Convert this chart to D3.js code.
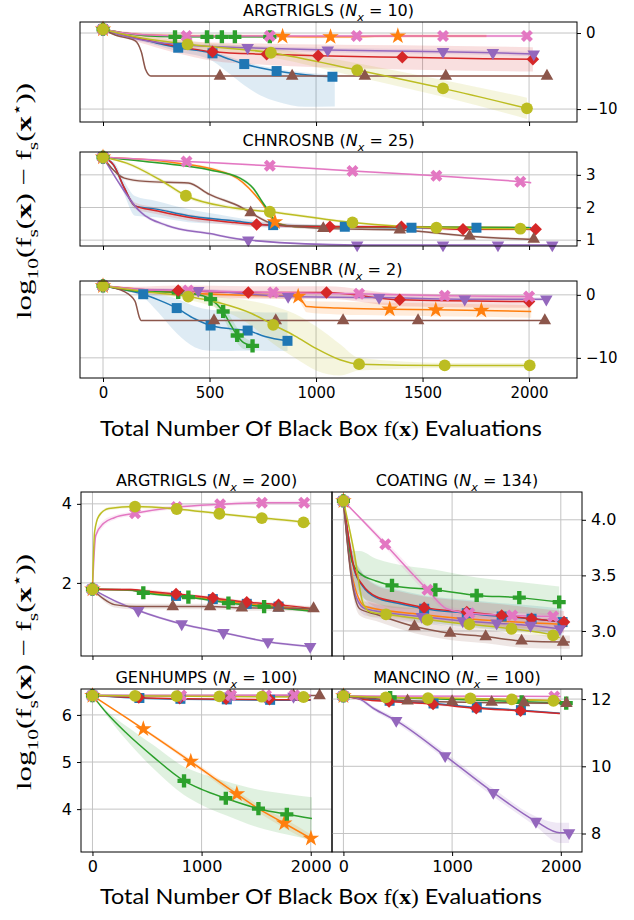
<!DOCTYPE html>
<html>
  <head>
    <meta charset="utf-8">
    <style type="text/css">
      body { margin: 0; background: #fff; }
      text { font-family: 'DejaVu Sans', sans-serif; }
    </style>
    <script src="https://d3js.org/d3.v7.min.js"></script>
  </head>
  <body>
    <svg width="634" height="920"></svg>
    <script>
      // series order: blue(s), orange(*), green(P), red(D), purple(v), brown(^), pink(X), olive(o)
      // line points are [x, y, band below, band above]
      const argtrigls10 = [
        { line: [[0,0.5,0,0],[60,0,0,0.1],[150,-0.6,0.2,0.2],[250,-1.3,0.3,0.3],[353,-1.93,0.5,0.3],[514,-2.67,1.0,0.3],[600,-3.5,2.0,0.3],[663,-4.08,2.8,0.3],[740,-4.6,3.6,0.3],[815,-5.0,4.0,0.3],[950,-5.5,4.2,0.3],[1077,-5.75,3.9,0.3],[1088,-5.75,3.9,0.3]], marks: [0,353,514,663,815,1077] },
        { line: [[0,0.5,0],[100,0,0.2],[250,-0.3,0.2],[500,-0.4,0.2],[843,-0.45,0.2],[1068,-0.5,0.2],[1384,-0.4,0.2],[1800,-0.4,0.2]], marks: [0,843,1068,1384] },
        { line: [[0,0.5,0],[100,0,0.15],[200,-0.35,0.15],[338,-0.5,0.15],[783,-0.5,0.15]], marks: [0,338,488,558,619,783] },
        { line: [[0,0.5,0],[100,-0.3,0.3],[250,-1.2,0.7],[400,-2.0,1.0],[514,-2.46,1.2],[768,-2.8,1.4],[1010,-3.0,1.5],[1405,-3.2,1.6],[2018,-3.46,1.6]], marks: [0,514,768,1010,1405,2018] },
        { line: [[0,0.5,0],[100,-0.4,0.2],[250,-1.2,0.3],[400,-1.6,0.3],[679,-1.93,0.3],[1055,-2.24,0.3],[1596,-2.46,0.3],[1830,-2.59,0.3],[2022,-2.76,0.3]], marks: [0,679,1055,1596,1830,2022] },
        { line: [[0,0.5,0],[60,-0.3,0.1],[150,-1.0,0.2],[180,-2.5,0.2],[200,-4.8,0.2],[225,-5.66,0.1],[2100,-5.66,0.1]], marks: [0,549,888,1229,1609,2084] },
        { line: [[0,0.5,0],[100,0,0.2],[250,-0.3,0.2],[392,-0.4,0.2],[783,-0.4,0.2],[1191,-0.4,0.2],[1596,-0.4,0.2],[1990,-0.4,0.2]], marks: [0,392,783,1191,1596,1990] },
        { line: [[0,0.5,0],[150,-0.5,0.3],[397,-1.49,0.4],[788,-2.59,0.6],[1193,-4.87,0.9],[1596,-7.28,1.1],[1990,-9.9,1.4]], marks: [0,397,788,1193,1596,1990] }
      ];
      const chnrosnb25 = [
        { line: [[0,3.54,0],[50,3.3,0.1],[100,2.6,0.2],[150,2.05,0.3],[250,1.95,0.25],[400,1.75,0.2],[600,1.6,0.12],[799,1.46,0.08],[1135,1.41,0.05],[1448,1.38,0.05],[1753,1.38,0.05],[2010,1.38,0.05]], marks: [0,799,1135,1448,1753] },
        { line: [[0,3.54,0],[300,3.4,0.03],[600,3.0,0.05],[750,2.1,0.05],[807,1.56,0.05],[900,1.42,0.03],[2000,1.38,0.03]], marks: [0,807] },
        { line: [[0,3.54,0],[267,3.36,0.03],[502,3.15,0.03],[643,2.9,0.04],[705,2.59,0.05],[752,2.13,0.05],[780,1.87,0.05],[820,1.5,0.04],[900,1.42,0.03],[2000,1.38,0.03]], marks: [0] },
        { line: [[0,3.54,0],[50,3.3,0.05],[100,2.6,0.08],[150,2.05,0.1],[250,1.9,0.1],[400,1.7,0.1],[600,1.55,0.08],[721,1.48,0.08],[1065,1.41,0.05],[1401,1.41,0.05],[1690,1.33,0.05],[2031,1.33,0.05]], marks: [0,721,1065,1401,1690,2031] },
        { line: [[0,3.54,0],[70,2.8,0.05],[170,1.9,0.05],[300,1.45,0.05],[500,1.2,0.04],[682,1.0,0.03],[1193,0.85,0.02],[2109,0.85,0.02]], marks: [0,682,1193,1596,1854,2109] },
        { line: [[0,3.54,0],[100,2.9,0.05],[200,2.8,0.05],[400,2.75,0.05],[500,2.4,0.05],[650,2.0,0.05],[693,1.84,0.05],[800,1.5,0.05],[1034,1.36,0.04],[1393,1.31,0.04],[1721,1.12,0.04],[2022,1.03,0.04],[2031,1.03,0.04]], marks: [0,693,1034,1393,1721,2022] },
        { line: [[0,3.54,0],[392,3.41,0.03],[783,3.28,0.03],[1171,3.12,0.03],[1565,2.97,0.03],[1959,2.79,0.03],[2010,2.76,0.03]], marks: [0,392,783,1171,1565,1959] },
        { line: [[0,3.54,0],[111,3.36,0.05],[267,2.85,0.06],[389,2.36,0.06],[600,2.0,0.06],[783,1.87,0.05],[1171,1.54,0.04],[1565,1.38,0.03],[1959,1.35,0.03],[2010,1.35,0.03]], marks: [0,389,783,1171,1565,1959] }
      ];
      const rosenbr2 = [
        { line: [[0,1.43,0,0],[100,0.8,0.2,0.2],[189,0.1,0.5,0.3],[260,-0.8,2.0,0.8],[346,-2.1,4.0,1.5],[430,-3.8,4.5,2.0],[505,-4.87,4.0,2.5],[600,-5.4,3.5,2.8],[679,-5.67,3.2,3.0],[760,-6.6,2.3,3.8],[866,-7.3,1.6,4.5]], marks: [0,189,346,505,679,866] },
        { line: [[0,1.43,0],[300,0.5,0.3],[600,0,0.4],[916,-0.27,0.5],[940,-1.2,0.8],[955,-1.86,0.9],[1100,-2.1,1.0],[1346,-2.27,1.0],[1562,-2.38,1.0],[1776,-2.49,1.0],[2010,-2.65,1.0]], marks: [0,916,1346,1562,1776] },
        { line: [[0,1.43,0],[150,0.6,0.1],[350,0.4,0.1],[450,0,0.3],[505,-0.68,0.6],[564,-2.65,1.0],[600,-4.8,1.2],[630,-6.46,1.2],[660,-7.6,1.0],[702,-8.1,0.7]], marks: [0,353,505,564,630,702] },
        { line: [[0,1.43,0],[150,0.8,0.5],[353,0.68,0.8],[682,0.37,1.0],[1049,0.37,1.0],[1393,-0.79,1.0],[2000,-1.06,1.0]], marks: [0,353,682,1049,1393,2000] },
        { line: [[0,1.43,0],[200,0.8,0.3],[447,0.68,0.3],[869,-0.27,0.3],[1296,-0.42,0.3],[1698,-0.68,0.3],[2081,-0.68,0.3]], marks: [0,447,869,1296,1698,2081] },
        { line: [[0,1.43,0],[100,0.5,0],[150,-1.0,0],[170,-3.5,0],[178,-4.08,0],[2074,-4.08,0]], marks: [0,521,811,1127,1479,2074] },
        { line: [[0,1.43,0],[200,0.8,0.3],[400,0.68,0.3],[799,0.37,0.3],[1202,0.16,0.3],[1604,-0.16,0.3],[2000,-0.27,0.3]], marks: [0,400,799,1202,1604,2000] },
        { line: [[0,1.43,0],[200,0.5,0.2],[400,-0.27,0.5],[550,-1.3,1.0],[700,-3.0,2.0],[799,-4.76,3.0],[900,-6.5,3.5],[1000,-8.5,3.5],[1112,-10.3,2.5],[1202,-11.0,1.0],[1604,-11.2,0.4],[2003,-11.2,0.4]], marks: [0,400,799,1202,1604,2003] }
      ];
      const argtrigls200 = [
        { line: [[0,1.84,0],[350,1.82,0.03],[500,1.77,0.04],[766,1.67,0.04],[1103,1.59,0.04],[1414,1.47,0.04],[1705,1.4,0.04],[2000,1.3,0.04]], marks: [0,766,1103,1414,1705] },
        { line: [[0,1.84,0],[350,1.82,0.03],[500,1.77,0.04],[766,1.67,0.04],[1103,1.59,0.04],[1414,1.47,0.04],[1705,1.4,0.04],[2000,1.3,0.04]], marks: [0] },
        { line: [[0,1.84,0],[350,1.82,0.03],[466,1.75,0.03],[879,1.64,0.03],[1246,1.49,0.03],[1573,1.4,0.03],[2000,1.29,0.03]], marks: [0,466,879,1246,1573] },
        { line: [[0,1.84,0],[350,1.83,0.03],[500,1.79,0.04],[766,1.72,0.04],[1103,1.62,0.04],[1414,1.51,0.04],[1705,1.45,0.04],[2000,1.35,0.04]], marks: [0,766,1103,1414,1705] },
        { line: [[0,1.84,0],[200,1.55,0.03],[420,1.3,0.03],[818,0.96,0.03],[1200,0.74,0.03],[1607,0.51,0.03],[1995,0.39,0.03]], marks: [0,420,818,1200,1607,1995] },
        { line: [[0,1.84,0],[100,1.6,0.06],[200,1.45,0.07],[400,1.4,0.07],[736,1.4,0.07],[1078,1.4,0.07],[1369,1.37,0.07],[1705,1.36,0.07],[2026,1.35,0.07]], marks: [0,736,1078,1369,1705,2026] },
        { line: [[0,1.84,0],[30,3.2,0.1],[100,3.5,0.08],[200,3.65,0.06],[390,3.76,0.05],[772,3.92,0.05],[1170,3.99,0.05],[1552,4.03,0.05],[1960,4.03,0.05]], marks: [0,390,772,1170,1552,1940] },
        { line: [[0,1.84,0],[20,3.3,0.05],[60,3.7,0.05],[150,3.88,0.04],[390,3.93,0.04],[772,3.87,0.04],[1163,3.75,0.04],[1552,3.64,0.04],[1934,3.53,0.04],[1995,3.5,0.04]], marks: [0,390,772,1163,1552,1934] }
      ];
      const coating134 = [
        { line: [[0,4.17,0],[100,3.55,0.12],[180,3.4,0.12],[300,3.3,0.12],[500,3.25,0.12],[743,3.2,0.12],[1135,3.16,0.12],[1456,3.13,0.12],[1731,3.11,0.12],[2016,3.08,0.12]], marks: [0,743,1135,1456,1731,2016] },
        { line: [[0,4.17,0],[80,3.5,0.05],[200,3.22,0.05],[700,3.15,0.05],[2000,3.06,0.05]], marks: [0] },
        { line: [[0,4.17,0],[80,3.62,0.1],[150,3.52,0.2],[300,3.45,0.2],[447,3.41,0.2],[846,3.37,0.18],[1226,3.32,0.16],[1618,3.3,0.14],[1985,3.26,0.14]], marks: [0,447,846,1226,1618,1985] },
        { line: [[0,4.17,0],[100,3.56,0.1],[180,3.41,0.1],[300,3.31,0.1],[500,3.26,0.1],[743,3.21,0.1],[1135,3.17,0.1],[1456,3.14,0.1],[1731,3.11,0.1],[2030,3.08,0.1]], marks: [0,743,1135,1456,1731,2030] },
        { line: [[0,4.17,0],[60,3.6,0.06],[120,3.3,0.06],[200,3.2,0.06],[722,3.13,0.06],[1098,3.09,0.06],[1410,3.07,0.06],[1722,3.05,0.06],[1991,3.02,0.06]], marks: [0,722,1098,1410,1722,1991] },
        { line: [[0,4.17,0],[70,3.5,0.06],[150,3.2,0.06],[300,3.15,0.06],[654,3.04,0.06],[982,2.98,0.06],[1309,2.95,0.06],[1639,2.91,0.06],[2021,2.9,0.06],[2083,2.9,0.06]], marks: [0,654,982,1309,1639,2021] },
        { line: [[0,4.17,0],[385,3.78,0.03],[600,3.55,0.04],[773,3.37,0.04],[950,3.2,0.03],[1159,3.16,0.03],[1553,3.14,0.03],[1929,3.13,0.03]], marks: [0,385,773,1159,1553,1929] },
        { line: [[0,4.17,0],[100,3.7,0.05],[180,3.25,0.05],[250,3.17,0.04],[392,3.15,0.03],[773,3.1,0.03],[1159,3.06,0.03],[1547,3.02,0.03],[1929,2.96,0.03],[1990,2.94,0.03]], marks: [0,392,773,1159,1547,1929] }
      ];
      const genhumps100 = [
        { line: [[0,6.41,0],[500,6.35,0.01],[2000,6.31,0.01]], marks: [0,430,806,1231,1628] },
        { line: [[0,6.41,0],[466,5.7,0.03],[901,5.01,0.05],[1323,4.32,0.07],[1521,4.01,0.08],[1757,3.7,0.1],[2002,3.38,0.08]], marks: [0,466,901,1323,1757,2002] },
        { line: [[0,6.41,0],[130,6.04,0.05],[313,5.61,0.15],[558,5.11,0.25],[839,4.6,0.3],[1000,4.42,0.33],[1222,4.23,0.36],[1521,4.01,0.4],[1781,3.89,0.43],[2011,3.8,0.45]], marks: [0,839,1222,1521,1781] },
        { line: [[0,6.41,0],[500,6.36,0.01],[2000,6.32,0.01]], marks: [0,425,800,1225,1622] },
        { line: [[0,6.41,0],[2000,6.39,0.01]], marks: [0,806,1261,1578,1842] },
        { line: [[0,6.41,0],[2081,6.41,0.01]], marks: [0,1261,1842,2081] },
        { line: [[0,6.41,0],[2000,6.42,0.01]], marks: [0,812,1270,1590,1850] },
        { line: [[0,6.41,0],[1990,6.38,0.01]], marks: [0,390,772,1163,1552,1934] }
      ];
      const mancino100 = [
        { line: [[0,12.09,0],[200,12.0,0.02],[425,11.95,0.03],[829,11.87,0.03],[1227,11.75,0.03],[1633,11.67,0.03],[1991,11.58,0.03]], marks: [0,425,829,1227,1633] },
        { line: [[0,12.09,0],[2000,11.95,0.02]], marks: [0] },
        { line: [[0,12.09,0],[2050,11.88,0.02]], marks: [0,430,1640,2050] },
        { line: [[0,12.09,0],[200,11.98,0.02],[420,11.93,0.03],[825,11.85,0.03],[1222,11.73,0.03],[1630,11.65,0.03],[1991,11.57,0.03]], marks: [0,420,825,1222,1630] },
        { line: [[0,12.09,0],[150,12.0,0.05],[278,11.72,0.06],[486,11.36,0.08],[936,10.31,0.1],[1379,9.22,0.12],[1771,8.36,0.15],[1991,8.02,0.3],[2076,8.02,0.3]], marks: [0,486,936,1379,1771,2076] },
        { line: [[0,12.09,0],[590,11.95,0.03],[2052,11.87,0.03]], marks: [0,590,1000,1364,1661,2052] },
        { line: [[0,12.09,0],[2000,12.08,0.02]], marks: [0,1940] },
        { line: [[0,12.09,0],[390,12.05,0.02],[778,12.03,0.02],[1168,12.02,0.02],[1550,11.99,0.02],[1932,11.95,0.02]], marks: [0,390,778,1168,1550,1932] }
      ];

      const xTicksTop = [0, 500, 1000, 1500, 2000];
      const xTicksBottom = [0, 1000, 2000];

      const colors = ['#1f77b4','#ff7f0e','#2ca02c','#d62728','#9467bd','#8c564b','#e377c2','#bcbd22'];
      const shapes = [
        { type: d3.symbolSquare, size: 100, rot: 0 },
        { type: d3.symbolStar, size: 85, rot: 0 },
        { type: d3.symbolCross, size: 95, rot: 0 },
        { type: d3.symbolSquare, size: 78, rot: 45 },
        { type: d3.symbolTriangle, size: 68, rot: 180 },
        { type: d3.symbolTriangle, size: 68, rot: 0 },
        { type: d3.symbolCross, size: 90, rot: 45 },
        { type: d3.symbolCircle, size: 110, rot: 0 }
      ];

      const svg = d3.select('svg');
      const serif = "'Liberation Serif', serif";

      function rich(text, parts, size) {
        let shift = 0;
        parts.forEach(p => {
          const target = p.sub ? size * 0.3 : p.sup ? -size * 0.4 : 0;
          const ts = text.append('tspan').text(p.t).attr('dy', target - shift);
          shift = target;
          if (p.sub || p.sup) ts.attr('font-size', size * 0.7);
          if (p.b) ts.attr('font-weight', 'bold');
          if (p.i) ts.attr('font-style', 'italic');
          if (p.f) ts.style('font-family', p.f);
        });
      }

      let clipId = 0;
      function panel(o) {
        const x = d3.scaleLinear().domain(o.xd).range([o.x0, o.x1]);
        const y = d3.scaleLinear().domain(o.yd).range([o.y1, o.y0]);
        const g = svg.append('g');

        // grid
        g.selectAll('.gx').data(o.xt).join('line')
          .attr('x1', d => x(d)).attr('x2', d => x(d))
          .attr('y1', o.y0).attr('y2', o.y1)
          .attr('stroke', '#c4c4c4').attr('stroke-width', 1);
        g.selectAll('.gy').data(o.yt).join('line')
          .attr('x1', o.x0).attr('x2', o.x1)
          .attr('y1', d => y(d)).attr('y2', d => y(d))
          .attr('stroke', '#c4c4c4').attr('stroke-width', 1);

        const id = 'clip' + (clipId++);
        svg.append('clipPath').attr('id', id).append('rect')
          .attr('x', o.x0).attr('y', o.y0).attr('width', o.x1 - o.x0).attr('height', o.y1 - o.y0);
        const plot = g.append('g').attr('clip-path', `url(#${id})`);

        const area = d3.area().curve(d3.curveMonotoneX)
          .x(d => x(d[0]))
          .y0(d => y(d[1] - d[2]))
          .y1(d => y(d[1] + (d.length > 3 ? d[3] : d[2])));
        const line = d3.line().curve(d3.curveMonotoneX)
          .x(d => x(d[0])).y(d => y(d[1]));

        o.data.forEach((s, i) => {
          plot.append('path').attr('d', area(s.line))
            .attr('fill', colors[i]).attr('fill-opacity', 0.15);
        });
        o.data.forEach((s, i) => {
          plot.append('path').attr('d', line(s.line))
            .attr('fill', 'none').attr('stroke', colors[i]).attr('stroke-width', 1.5);
          const along = d3.scaleLinear().clamp(true)
            .domain(s.line.map(d => d[0])).range(s.line.map(d => d[1]));
          const sym = d3.symbol().type(shapes[i].type).size(shapes[i].size);
          g.selectAll(null).data(s.marks).join('path')
            .attr('d', sym)
            .attr('transform', d => `translate(${x(d)},${y(along(d))}) rotate(${shapes[i].rot})`)
            .attr('fill', colors[i]);
        });

        // frame
        g.append('rect').attr('x', o.x0).attr('y', o.y0)
          .attr('width', o.x1 - o.x0).attr('height', o.y1 - o.y0)
          .attr('fill', 'none').attr('stroke', '#000').attr('stroke-width', 1);

        const xa = g.append('g').attr('transform', `translate(0,${o.y1})`)
          .call(d3.axisBottom(x).tickValues(o.xt).tickSize(4).tickPadding(5)
            .tickFormat(o.xl ? d3.format('d') : ''));
        xa.select('.domain').remove();
        xa.selectAll('text').attr('font-size', o.fs).attr('fill', '#000')
          .style('font-family', "'DejaVu Sans', sans-serif");

        const ya = g.append('g')
          .attr('transform', `translate(${o.side === 'left' ? o.x0 : o.x1},0)`)
          .call((o.side === 'left' ? d3.axisLeft(y) : d3.axisRight(y))
            .tickValues(o.yt).tickSize(4).tickPadding(5).tickFormat(d3.format(o.yf || 'd')));
        ya.select('.domain').remove();
        ya.selectAll('text').attr('font-size', o.fs).attr('fill', '#000')
          .style('font-family', "'DejaVu Sans', sans-serif");

        const t = svg.append('text').attr('x', (o.x0 + o.x1) / 2).attr('y', o.y0 - 6)
          .attr('text-anchor', 'middle').attr('font-size', 16);
        rich(t, [{ t: o.name + ' (' }, { t: 'N', i: 1 }, { t: 'x', i: 1, sub: 1 }, { t: ' = ' + o.n + ')' }], 16);
      }

      // top figure
      const topX = { xd: [-108, 2225], x0: 80, x1: 577, xt: xTicksTop, side: 'right', fs: 15 };
      panel({ ...topX, data: argtrigls10, name: 'ARGTRIGLS', n: 10, y0: 22, y1: 122, yd: [-11.7, 1.45], yt: [-10, 0] });
      panel({ ...topX, data: chnrosnb25, name: 'CHNROSNB', n: 25, y0: 152, y1: 246, yd: [0.82, 3.7], yt: [1, 2, 3] });
      panel({ ...topX, data: rosenbr2, name: 'ROSENBR', n: 2, y0: 281, y1: 378, yd: [-13.2, 2.2], yt: [-10, 0], xl: true });

      // bottom figure
      const bl = { xd: [-105, 2195], x0: 81, x1: 332, xt: xTicksBottom, side: 'left', fs: 16 };
      const br = { xd: [-105, 2195], x0: 332, x1: 582, xt: xTicksBottom, side: 'right', fs: 16 };
      panel({ ...bl, data: argtrigls200, name: 'ARGTRIGLS', n: 200, y0: 492, y1: 656, yd: [0.15, 4.3], yt: [2, 4] });
      panel({ ...br, data: coating134, name: 'COATING', n: 134, y0: 492, y1: 656, yd: [2.775, 4.25], yt: [3.0, 3.5, 4.0], yf: '.1f' });
      panel({ ...bl, data: genhumps100, name: 'GENHUMPS', n: 100, y0: 689, y1: 852, yd: [3.09, 6.55], yt: [4, 5, 6], xl: true });
      panel({ ...br, data: mancino100, name: 'MANCINO', n: 100, y0: 689, y1: 852, yd: [7.45, 12.3], yt: [8, 10, 12], xl: true });

      // axis labels
      const yParts = [{ t: 'log' }, { t: '10', sub: 1 }, { t: '(f' }, { t: 's', sub: 1 }, { t: '(' }, { t: 'x', b: 1 },
        { t: ') − f' }, { t: 's', sub: 1 }, { t: '(' }, { t: 'x', b: 1 }, { t: '⋆', sup: 1 }, { t: '))' }];
      const xParts = [{ t: 'Total Number Of Black Box ' }, { t: 'f(', f: serif }, { t: 'x', f: serif, b: 1 },
        { t: ')', f: serif }, { t: ' Evaluations' }];

      [[201, 436], [672, 904]].forEach(([yc, xb]) => {
        const yl = svg.append('text').attr('transform', `translate(31,${yc}) rotate(-90)`)
          .attr('text-anchor', 'middle').attr('font-size', 22)
          .attr('textLength', 236).attr('lengthAdjust', 'spacingAndGlyphs')
          .style('font-family', serif);
        rich(yl, yParts, 22);
        const xl = svg.append('text').attr('x', 321).attr('y', xb)
          .attr('text-anchor', 'middle').attr('font-size', 21)
          .attr('textLength', 442).attr('lengthAdjust', 'spacingAndGlyphs')
          .style('font-family', "Lato, sans-serif");
        rich(xl, xParts, 21);
      });
    </script>
  </body>
</html>
